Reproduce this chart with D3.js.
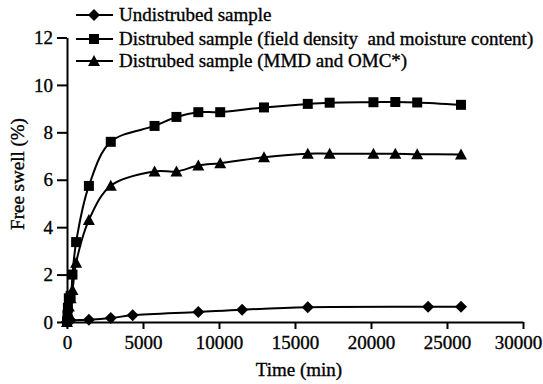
<!DOCTYPE html>
<html>
<head>
<meta charset="utf-8">
<script src="https://cdn.jsdelivr.net/npm/d3@7"></script>
<style>
  body { margin: 0; background: #fff; }
</style>
</head>
<body>
<svg id="chart"></svg>
<script>
const width = 543;
const height = 384;
const fontFamily = "Liberation Serif";

// series data (time in min, free swell in %)
const undisturbedTime = [0, 30, 60, 120, 240, 1440, 2880, 4320, 8640, 11520, 15840, 23760, 25920];
const undisturbedSwell = [0, 0.02, 0.03, 0.05, 0.07, 0.1, 0.17, 0.28, 0.42, 0.52, 0.62, 0.64, 0.64];

const fieldTime = [0, 30, 60, 120, 240, 360, 600, 1440, 2880, 5760, 7200, 8640, 10080, 12960, 15840, 17280, 20160, 21600, 23040, 25920];
const fieldSwell = [0, 0.3, 0.6, 1.0, 1.1, 2.0, 3.37, 5.74, 7.6, 8.27, 8.65, 8.85, 8.85, 9.05, 9.2, 9.25, 9.27, 9.28, 9.26, 9.16];

const mmdTime = [0, 30, 60, 120, 240, 360, 600, 1440, 2880, 5760, 7200, 8640, 10080, 12960, 15840, 17280, 20160, 21600, 23040, 25920];
const mmdSwell = [0, 0.2, 0.4, 0.65, 1.0, 1.35, 2.5, 4.3, 5.75, 6.35, 6.35, 6.6, 6.7, 6.95, 7.1, 7.1, 7.1, 7.1, 7.08, 7.07];

const seriesNames = [
  "Undistrubed sample",
  "Distrubed sample (field density  and moisture content)",
  "Distrubed sample (MMD and OMC*)"
];
const seriesMarkers = ["diamond", "square", "triangle"];

const xTicks = [0, 5000, 10000, 15000, 20000, 25000, 30000];
const yTicks = [0, 2, 4, 6, 8, 10, 12];

const series = [
  { name: seriesNames[0], marker: seriesMarkers[0], points: undisturbedTime.map((t, i) => ({ t, v: undisturbedSwell[i] })) },
  { name: seriesNames[1], marker: seriesMarkers[1], points: fieldTime.map((t, i) => ({ t, v: fieldSwell[i] })) },
  { name: seriesNames[2], marker: seriesMarkers[2], points: mmdTime.map((t, i) => ({ t, v: mmdSwell[i] })) }
];

const svg = d3.select("#chart")
  .attr("width", width)
  .attr("height", height);

const x = d3.scaleLinear().domain([0, 30000]).range([67, 523]);
const y = d3.scaleLinear().domain([0, 12]).range([322, 37.5]);

// serif text everywhere, a touch heavier like the scanned figure
function serif(sel) {
  return sel.attr("font-family", fontFamily)
    .style("font-family", "'Liberation Serif', 'Times New Roman', serif")
    .style("font-size", "19px")
    .attr("fill", "#000")
    .attr("stroke", "#000")
    .attr("stroke-width", 0.35);
}

// marker shapes
function markerPath(type) {
  if (type === "diamond") return "M0,-6L6,0L0,6L-6,0Z";
  if (type === "square") return "M-5,-5H5V5H-5Z";
  return "M0,-6L6,5H-6Z";
}

// axes
const xAxis = svg.append("g")
  .attr("transform", `translate(0,${y(0)})`)
  .call(d3.axisBottom(x).tickValues(xTicks).tickSize(7).tickSizeOuter(0).tickFormat(d3.format("d")));

const yAxis = svg.append("g")
  .attr("transform", `translate(${x(0)},0)`)
  .call(d3.axisLeft(y).tickValues(yTicks).tickSize(10).tickSizeOuter(0));

[xAxis, yAxis].forEach(a => {
  a.select(".domain").attr("stroke", "#000").attr("stroke-width", 2);
  a.selectAll(".tick line").attr("stroke", "#000").attr("stroke-width", 2);
  serif(a.selectAll(".tick text"));
});
xAxis.selectAll(".tick text").attr("y", 12).attr("dy", "0.8em");
// last label sits against the right edge, as in the figure
xAxis.selectAll(".tick text").filter(d => d === 30000).attr("dx", -5);
yAxis.selectAll(".tick text").attr("x", -14);

// axis titles
serif(svg.append("text"))
  .attr("x", 299)
  .attr("y", 376)
  .attr("text-anchor", "middle")
  .text("Time (min)");

serif(svg.append("text"))
  .attr("transform", "translate(24,174) rotate(-90)")
  .attr("text-anchor", "middle")
  .text("Free swell (%)");

// lines
const line = d3.line()
  .x(d => x(d.t))
  .y(d => y(d.v))
  .curve(d3.curveCatmullRom.alpha(0.5));

series.forEach(s => {
  svg.append("path")
    .datum(s.points)
    .attr("fill", "none")
    .attr("stroke", "#000")
    .attr("stroke-width", 2)
    .attr("d", line);

  svg.selectAll(null)
    .data(s.points)
    .enter()
    .append("path")
    .attr("transform", d => `translate(${x(d.t)},${y(d.v)})`)
    .attr("d", markerPath(s.marker))
    .attr("fill", "#000");
});

// legend
const legendY = [15, 39, 61];
series.forEach((s, i) => {
  const g = svg.append("g").attr("transform", `translate(0,${legendY[i]})`);
  g.append("line")
    .attr("x1", 76).attr("x2", 113)
    .attr("y1", 0).attr("y2", 0)
    .attr("stroke", "#000")
    .attr("stroke-width", 2);
  g.append("path")
    .attr("transform", "translate(94,0)")
    .attr("d", markerPath(s.marker))
    .attr("fill", "#000");
  serif(g.append("text"))
    .attr("x", 119)
    .attr("y", 0)
    .attr("dy", "0.33em")
    .style("white-space", "pre")
    .text(s.name);
});
</script>
</body>
</html>
